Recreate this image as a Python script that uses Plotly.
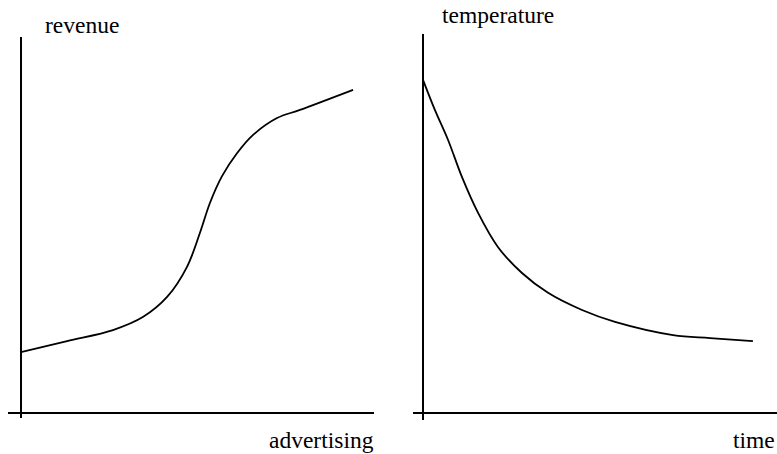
import plotly.graph_objects as go

# Left sketch: revenue vs advertising (arbitrary units)
advertising = [0, 1.39, 2.77, 3.67, 4.40, 5.0, 5.39, 5.69, 6.05, 6.51, 6.99, 7.71, 8.40, 10.0]
revenue = [1.88, 2.22, 2.56, 2.96, 3.58, 4.51, 5.56, 6.48, 7.30, 8.02, 8.58, 9.10, 9.35, 9.97]

# Right sketch: temperature vs time (arbitrary units)
time_vals = [0, 0.36, 0.76, 1.18, 1.67, 2.27, 3.0, 3.79, 4.82, 5.82, 7.58, 8.70, 10.0]
temperature = [10.09, 9.18, 8.27, 7.15, 6.06, 5.03, 4.24, 3.64, 3.12, 2.76, 2.36, 2.27, 2.18]

W, H = 777, 454
FONT = "Liberation Serif"

fig = go.Figure()
fig.add_trace(go.Scatter(x=advertising, y=revenue, mode="lines",
                         line=dict(color="black", width=1.8, shape="spline", smoothing=1.0),
                         xaxis="x", yaxis="y", hoverinfo="skip"))
fig.add_trace(go.Scatter(x=time_vals, y=temperature, mode="lines",
                         line=dict(color="black", width=1.8, shape="spline", smoothing=1.0),
                         xaxis="x2", yaxis="y2", hoverinfo="skip"))

ax_common = dict(showgrid=False, showticklabels=False, ticks="", showline=False,
                 zeroline=True, zerolinecolor="black", zerolinewidth=1.8, fixedrange=True)

fig.update_layout(
    width=W, height=H,
    margin=dict(l=0, r=0, t=0, b=0),
    paper_bgcolor="white", plot_bgcolor="white",
    showlegend=False,
    font=dict(family=FONT, color="black", size=23.5),
    xaxis=dict(domain=[8 / W, 374 / W], range=[-0.39, 10.63], anchor="y", **ax_common),
    yaxis=dict(domain=[(H - 418) / H, (H - 37) / H], range=[-0.154, 11.6], anchor="x", **ax_common),
    xaxis2=dict(domain=[413 / W, 1.0], range=[-0.303, 10.73], anchor="y2", **ax_common),
    yaxis2=dict(domain=[(H - 420) / H, (H - 34) / H], range=[-0.212, 11.48], anchor="x2", **ax_common),
    annotations=[
        dict(text="revenue", xref="paper", yref="paper", x=82 / W, y=(H - 25) / H,
             xanchor="center", yanchor="middle", showarrow=False),
        dict(text="advertising", xref="paper", yref="paper", x=376 / W, y=(H - 440) / H,
             xanchor="right", yanchor="middle", showarrow=False),
        dict(text="temperature", xref="paper", yref="paper", x=498 / W, y=(H - 15) / H,
             xanchor="center", yanchor="middle", showarrow=False),
        dict(text="time", xref="paper", yref="paper", x=1.0, y=(H - 440) / H,
             xanchor="right", yanchor="middle", showarrow=False),
    ],
)

fig.write_html("out.html", config={"displayModeBar": False},
               post_script="document.body.style.margin='0px';document.body.style.overflow='hidden';")
